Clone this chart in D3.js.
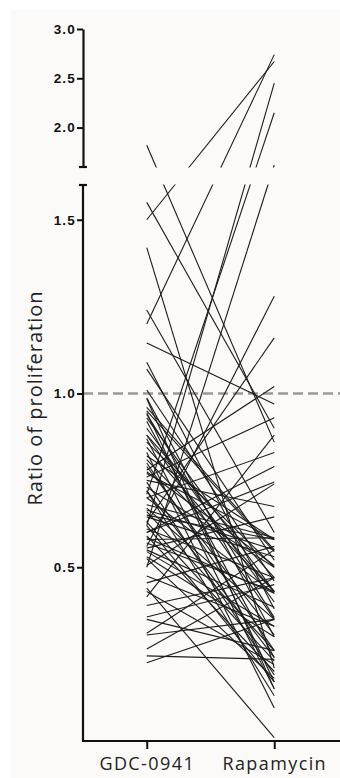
<!DOCTYPE html>
<html>
<head>
<meta charset="utf-8">
<script src="https://cdn.jsdelivr.net/npm/d3@7"></script>
<style>
  html, body { margin: 0; padding: 0; background: #fff; }
  svg { display: block; }
</style>
</head>
<body>
<div id="chart"></div>
<script>
// categories on the x axis
const categories = ["GDC-0941", "Rapamycin"];

// paired ratios, one entry per sample (same index = same line)
const gdc0941 = [
  1.50, 1.20, 0.62, 0.71, 1.82, 0.50, 1.55, 1.42, 1.24, 1.145,
  1.09, 1.07, 0.56, 0.63, 0.78, 0.76, 0.44, 0.987, 0.945, 0.93,
  0.90, 0.87, 0.845, 0.82, 0.80, 0.775, 0.745, 0.73, 0.70, 0.67,
  0.65, 0.63, 0.60, 0.57, 0.555, 0.525, 0.505, 0.455, 0.415, 0.39,
  0.357, 0.305, 0.265, 0.245, 0.225, 0.96, 0.92, 0.88, 0.86, 0.83,
  0.81, 0.79, 0.77, 0.75, 0.72, 0.70, 0.68, 0.66, 0.645, 0.61,
  0.59, 0.58, 0.55, 0.545, 0.53, 0.60, 0.585, 0.95, 0.94, 0.72,
  0.475, 0.35, 1.01, 0.985, 0.88, 0.665, 0.62, 0.43, 0.31
];
const rapamycin = [
  2.67, 2.74, 2.45, 2.15, 0.86, 1.62, 0.90, 0.21, 0.60, 0.97,
  0.38, 0.52, 1.28, 1.16, 1.02, 0.93, 0.01, 0.30, 0.17, 0.43,
  0.40, 0.15, 0.43, 0.58, 0.26, 0.505, 0.19, 0.50, 0.83, 0.35,
  0.58, 0.23, 0.79, 0.43, 0.645, 0.18, 0.74, 0.56, 0.88, 0.47,
  0.45, 0.35, 0.47, 0.235, 0.35, 0.55, 0.24, 0.47, 0.50, 0.095,
  0.43, 0.305, 0.58, 0.675, 0.13, 0.425, 0.585, 0.26, 0.53, 0.47,
  0.20, 0.585, 0.385, 0.33, 0.30, 0.745, 0.425, 0.545, 0.355, 0.24,
  0.33, 0.26, 0.46, 0.15, 0.35, 0.55, 0.17, 0.22, 0.55
];

// axis ticks for the two segments of the broken y axis
const topTicks = [2.0, 2.5, 3.0];
const bottomTicks = [0.5, 1.0, 1.5];
const breakValue = 1.6;
const refValue = 1.0;
const yTitle = "Ratio of proliferation";

const W = 340, H = 778;
const axisX = 83;

const svg = d3.select("#chart").append("svg")
  .attr("width", W)
  .attr("height", H);

// slightly warm panel like the scanned figure
svg.append("rect")
  .attr("x", 11).attr("y", 10)
  .attr("width", W - 11).attr("height", H - 10)
  .attr("fill", "#fbfaf9");

// broken y axis: two linear segments
const yTop = d3.scaleLinear().domain([breakValue, 3.0]).range([167, 29]);
const yBot = d3.scaleLinear().domain([0, breakValue]).range([741, 185]);
const yPos = v => v > breakValue ? yTop(v) : yBot(v);

const x = d3.scalePoint()
  .domain(categories)
  .range([axisX, 338])
  .padding(0.5);

// clip so the gap between the two segments stays empty
const defs = svg.append("defs");
const clip = defs.append("clipPath").attr("id", "panels");
clip.append("rect")
  .attr("x", axisX).attr("y", 0)
  .attr("width", W - axisX).attr("height", yTop(breakValue) + 0.5);
clip.append("rect")
  .attr("x", axisX).attr("y", yBot(breakValue) - 0.5)
  .attr("width", W - axisX).attr("height", H);

// dashed reference line at 1.0
svg.append("line")
  .attr("x1", axisX).attr("x2", W)
  .attr("y1", yBot(refValue)).attr("y2", yBot(refValue))
  .attr("stroke", "#999")
  .attr("stroke-width", 2.4)
  .attr("stroke-dasharray", "10,5");

// paired lines
const pairs = gdc0941.map((g, i) => [g, rapamycin[i]]);
svg.append("g")
  .attr("clip-path", "url(#panels)")
  .selectAll("line")
  .data(pairs)
  .enter()
  .append("line")
  .attr("x1", x(categories[0]))
  .attr("x2", x(categories[1]))
  .attr("y1", d => yPos(d[0]))
  .attr("y2", d => yPos(d[1]))
  .attr("stroke", "#1c1c1c")
  .attr("stroke-width", 1.1);

// y axis, top segment
const tickFmt = d3.format(".1f");
const axTop = svg.append("g")
  .attr("transform", "translate(" + axisX + ",0)")
  .call(d3.axisLeft(yTop).tickValues(topTicks).tickSize(6).tickSizeOuter(0).tickFormat(tickFmt));

// y axis, bottom segment
const axBot = svg.append("g")
  .attr("transform", "translate(" + axisX + ",0)")
  .call(d3.axisLeft(yBot).tickValues(bottomTicks).tickSize(6).tickSizeOuter(0).tickFormat(tickFmt));
axBot.select(".domain").attr("d", "M0," + yBot(breakValue) + "V" + yBot(0));

[axTop, axBot].forEach(ax => {
  ax.select(".domain").attr("stroke", "#111").attr("stroke-width", 2.2);
  ax.selectAll(".tick line").attr("stroke", "#111").attr("stroke-width", 2);
  ax.selectAll(".tick text")
    .attr("fill", "#111")
    .attr("x", -7)
    .style("font-family", "'Liberation Sans', Arial, sans-serif")
    .style("font-size", "13.5px")
    .style("letter-spacing", "1.2px")
    .style("font-weight", "bold");
});

// break caps
[yTop(breakValue), yBot(breakValue)].forEach(yy => {
  svg.append("line")
    .attr("x1", axisX - 4).attr("x2", axisX + 4)
    .attr("y1", yy).attr("y2", yy)
    .attr("stroke", "#111").attr("stroke-width", 2.2);
});

// x axis
const axX = svg.append("g")
  .attr("transform", "translate(0," + yBot(0) + ")")
  .call(d3.axisBottom(x).tickSize(8).tickPadding(8).tickSizeOuter(0));
axX.select(".domain").attr("d", "M" + (axisX - 1) + ",0H" + W)
  .attr("stroke", "#111").attr("stroke-width", 2);
axX.selectAll(".tick line").attr("stroke", "#111").attr("stroke-width", 2);
axX.selectAll(".tick text")
  .attr("fill", "#222")
  .style("font-family", "'Open Sans', sans-serif")
  .style("font-size", "18px")
  .style("letter-spacing", "1.4px");

// y title
svg.append("text")
  .attr("transform", "translate(42," + 398 + ") rotate(-90)")
  .attr("text-anchor", "middle")
  .attr("fill", "#222")
  .style("font-family", "'Open Sans', sans-serif")
  .style("font-size", "20px")
  .style("letter-spacing", "1px")
  .text(yTitle);
</script>
</body>
</html>
